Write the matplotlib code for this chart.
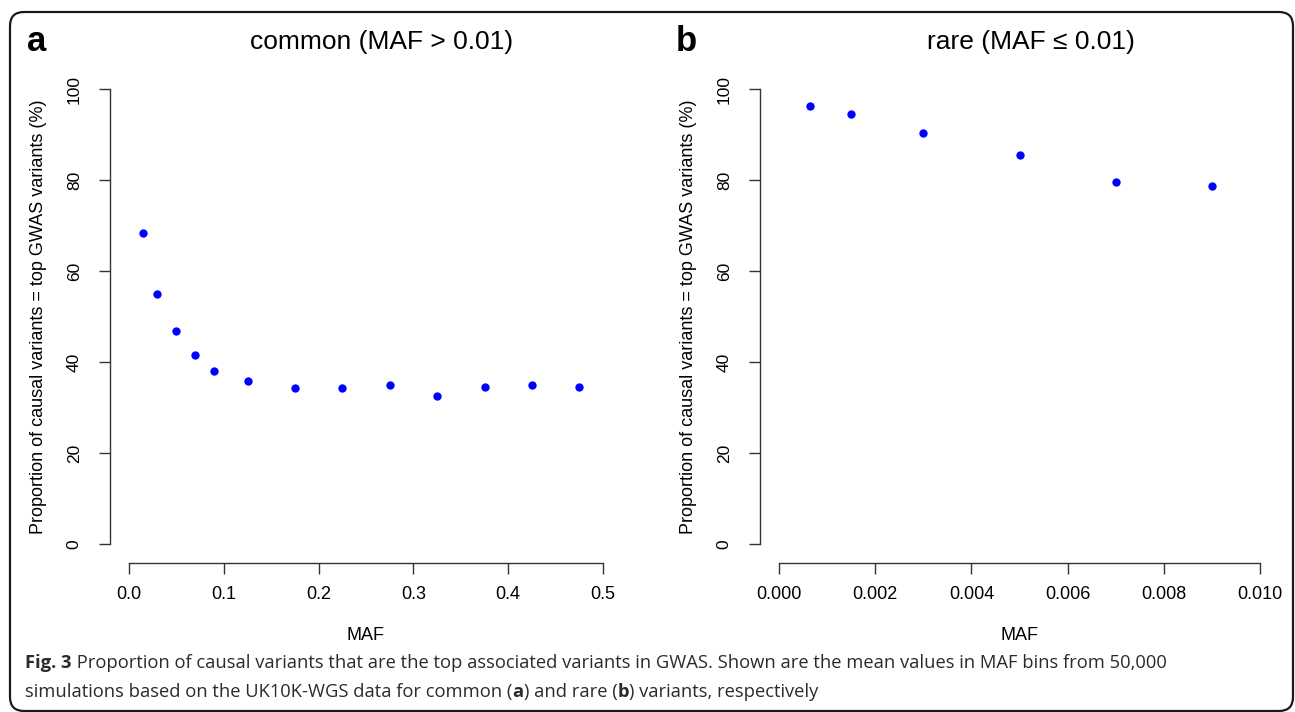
import matplotlib
matplotlib.use('Agg')
import matplotlib.pyplot as plt
from matplotlib.patches import FancyBboxPatch
from matplotlib.transforms import IdentityTransform

# common variants (MAF > 0.01): bin midpoints and proportions (%)
common_maf = [0.015, 0.03, 0.05, 0.07, 0.09, 0.125, 0.175, 0.225, 0.275, 0.325, 0.375, 0.425, 0.475]
common_prop = [68.3, 55.0, 46.9, 41.6, 38.0, 35.9, 34.2, 34.2, 34.9, 32.5, 34.6, 34.9, 34.6]

# rare variants (MAF <= 0.01)
rare_maf = [0.00065, 0.0015, 0.003, 0.005, 0.007, 0.009]
rare_prop = [96.3, 94.6, 90.4, 85.4, 79.5, 78.7]

common_xticks = [0.0, 0.1, 0.2, 0.3, 0.4, 0.5]
common_xlabels = ['0.0', '0.1', '0.2', '0.3', '0.4', '0.5']
rare_xticks = [0.0, 0.002, 0.004, 0.006, 0.008, 0.010]
rare_xlabels = ['0.000', '0.002', '0.004', '0.006', '0.008', '0.010']
yticks = [0, 20, 40, 60, 80, 100]

W, H = 1295, 712
plt.rcParams['font.family'] = ['Liberation Sans', 'DejaVu Sans']
fig = plt.figure(figsize=(W / 100, H / 100), dpi=100)

ylab = 'Proportion of causal variants = top GWAS variants (%)'


def px_axes(left, right, top, bottom):
    return fig.add_axes([left / W, 1 - bottom / H, (right - left) / W, (bottom - top) / H])


def panel(ax, x, y, xticks, xlabels, xlim, title, letter, letter_x, title_x):
    ax.plot(x, y, 'o', color='#0000ff', ms=6, mew=0, clip_on=False)
    ax.set_xlim(*xlim)
    ax.set_ylim(0, 100)
    for s in ['top', 'right']:
        ax.spines[s].set_visible(False)
    ax.spines['left'].set_position(('outward', 14))
    ax.spines['bottom'].set_position(('outward', 13.5))
    for s in ['left', 'bottom']:
        ax.spines[s].set_color('#333333')
        ax.spines[s].set_linewidth(1.0)
    ax.set_xticks(xticks)
    ax.set_xticklabels(xlabels, fontsize=13)
    ax.set_yticks(yticks)
    ax.set_yticklabels([str(v) for v in yticks], fontsize=12.5)
    for lab in ax.get_yticklabels():
        lab.set_rotation(90)
        lab.set_va('center')
        lab.set_ha('right')
    ax.tick_params(axis='both', length=8, width=1.0, color='#333333')
    ax.tick_params(axis='x', pad=9)
    ax.tick_params(axis='y', pad=12)
    ax.set_xlabel('MAF', fontsize=13)
    ax.xaxis.set_label_coords(0.5, 1 - (636 - 89) / 455, transform=ax.transAxes)
    ax.xaxis.label.set_va('center')
    ax.set_ylabel(ylab, fontsize=13)
    fig.text(title_x / W, 1 - 42 / H, title, fontsize=19, ha='center', va='center')
    fig.text(letter_x / W, 1 - 51 / H, letter, fontsize=25, fontweight='bold', ha='left', va='baseline')


axa = px_axes(129, 603, 89, 544)
panel(axa, common_maf, common_prop, common_xticks, common_xlabels, (0, 0.5),
      'common (MAF > 0.01)', 'a', 27, 382)
axa.yaxis.set_label_coords((47 - 129) / 474, 0.5)

axb = px_axes(779, 1260, 89, 544)
panel(axb, rare_maf, rare_prop, rare_xticks, rare_xlabels, (0, 0.010),
      'rare (MAF \u2264 0.01)', 'b', 676, 1031)
axb.yaxis.set_label_coords((697 - 779) / 481, 0.5)

# outer rounded frame
frame = FancyBboxPatch((10, 1), 1283, 699, boxstyle='round,pad=0,rounding_size=14',
                       transform=IdentityTransform(), fill=False, ec='#1a1a1a', lw=1.6)
fig.patches.append(frame)

# caption with bold runs
renderer = fig.canvas.get_renderer()


def rich_line(x, y, parts, size=13.2):
    for txt, bold in parts:
        t = fig.text(x / W, 1 - y / H, txt, fontsize=size, family=['Open Sans', 'DejaVu Sans'],
                     fontweight='bold' if bold else 'normal', color='#2b2b2b',
                     ha='left', va='baseline')
        bb = t.get_window_extent(renderer)
        x += bb.width


rich_line(25, 668, [('Fig. 3', True),
                    (' Proportion of causal variants that are the top associated variants in GWAS. '
                     'Shown are the mean values in MAF bins from 50,000', False)])
rich_line(25, 697, [('simulations based on the UK10K-WGS data for common (', False), ('a', True),
                    (') and rare (', False), ('b', True), (') variants, respectively', False)])

fig.savefig('out.png', dpi=100)
